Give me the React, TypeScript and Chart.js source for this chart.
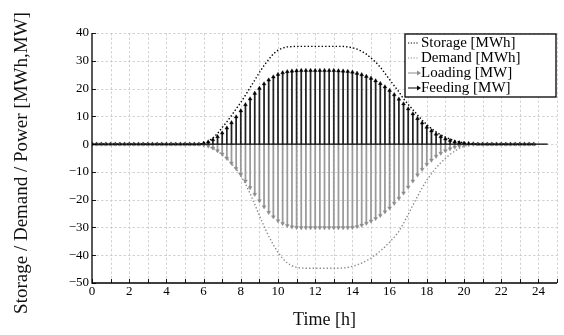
import React, { useEffect, useRef } from "react";
import { Chart, registerables } from "chart.js";

Chart.register(...registerables);

// Time axis (hours, one sample every quarter hour)
const HOURS: number[] = Array.from({ length: 96 }, (_, i) => i * 0.25);

// Storage [MWh]
const STORAGE: number[] = [
  0, 0, 0, 0, 0, 0, 0, 0, 0, 0, 0, 0,
  0, 0, 0, 0, 0, 0, 0, 0, 0, 0, 0, 0,
  0.3, 1.0, 2.2, 3.8, 6.0, 8.0, 10.3, 12.7, 15.0, 17.6, 20.3, 23.0,
  25.8, 28.3, 30.5, 32.5, 33.8, 34.6, 35.0, 35.1, 35.2, 35.2, 35.2, 35.2,
  35.2, 35.2, 35.2, 35.2, 35.2, 35.2, 35.2, 35.0, 34.7, 34.2, 33.4, 32.4,
  31.0, 29.5, 27.7, 25.5, 23.2, 21.0, 18.8, 16.3, 14.3, 12.4, 10.5, 8.6,
  7.0, 5.6, 4.4, 3.3, 2.5, 1.8, 1.2, 0.8, 0.4, 0.2, 0.1, 0,
  0, 0, 0, 0, 0, 0, 0, 0, 0, 0, 0, 0,
];

// Demand [MWh]
const DEMAND: number[] = [
  0, 0, 0, 0, 0, 0, 0, 0, 0, 0, 0, 0,
  0, 0, 0, 0, 0, 0, 0, 0, 0, 0, 0, 0,
  -0.3, -0.8, -1.5, -2.5, -3.8, -5.2, -7.0, -9.0, -11.3, -14.3, -17.8, -21.7,
  -25.7, -29.6, -33.1, -36.3, -39.0, -41.2, -42.8, -43.8, -44.4, -44.6, -44.7, -44.7,
  -44.7, -44.7, -44.7, -44.7, -44.7, -44.7, -44.6, -44.4, -44.0, -43.5, -42.8, -42.0,
  -41.0, -39.8, -38.5, -37.0, -35.3, -33.5, -31.4, -28.5, -25.3, -22.0, -18.8, -15.8,
  -13.0, -10.6, -8.5, -6.7, -5.1, -3.7, -2.5, -1.5, -0.8, -0.3, -0.1, 0,
  0, 0, 0, 0, 0, 0, 0, 0, 0, 0, 0, 0,
];

// Loading [MW]
const LOADING: number[] = [
  0, 0, 0, 0, 0, 0, 0, 0, 0, 0, 0, 0,
  0, 0, 0, 0, 0, 0, 0, 0, 0, 0, 0, 0,
  -0.3, -0.7, -1.4, -2.4, -3.6, -5.1, -6.9, -8.8, -11.0, -13.3, -15.7, -18.1,
  -20.4, -22.6, -24.6, -26.2, -27.6, -28.6, -29.3, -29.8, -30.0, -30.1, -30.1, -30.1,
  -30.1, -30.1, -30.1, -30.1, -30.1, -30.1, -30.1, -30.1, -30.0, -29.7, -29.2, -28.5,
  -27.7, -26.8, -25.7, -24.4, -23.0, -21.3, -19.5, -17.6, -15.5, -13.3, -11.1, -9.1,
  -7.3, -5.8, -4.4, -3.3, -2.4, -1.7, -1.1, -0.7, -0.4, -0.2, -0.1, 0,
  0, 0, 0, 0, 0, 0, 0, 0, 0, 0, 0, 0,
];

// Feeding [MW]
const FEEDING: number[] = [
  0, 0, 0, 0, 0, 0, 0, 0, 0, 0, 0, 0,
  0, 0, 0, 0, 0, 0, 0, 0, 0, 0, 0, 0,
  0.3, 0.8, 1.6, 2.7, 4.0, 5.8, 7.7, 9.8, 12.0, 14.2, 16.3, 18.3,
  20.1, 21.7, 23.1, 24.2, 25.1, 25.7, 26.1, 26.3, 26.4, 26.5, 26.5, 26.5,
  26.5, 26.5, 26.5, 26.5, 26.5, 26.4, 26.3, 26.2, 25.9, 25.5, 25.0, 24.4,
  23.7, 22.8, 21.8, 20.6, 19.3, 17.8, 16.2, 14.5, 12.7, 10.9, 9.2, 7.6,
  6.1, 4.8, 3.6, 2.7, 1.9, 1.3, 0.8, 0.5, 0.3, 0.2, 0.1, 0,
  0, 0, 0, 0, 0, 0, 0, 0, 0, 0, 0, 0,
];

const X_MIN = 0;
const X_MAX = 25;
const X_LABEL_STEP = 2;
const Y_MIN = -50;
const Y_MAX = 40;
const Y_STEP = 10;
const BASELINE_END = 24.5;

const LEGEND_LABELS = ["Storage [MWh]", "Demand [MWh]", "Loading [MW]", "Feeding [MW]"];
const X_TITLE = "Time [h]";
const Y_TITLE = "Storage / Demand / Power [MWh,MW]";

const FONT = "'Liberation Serif', 'Times New Roman', Times, serif";
const GRAY = "#8c8c8c";
const GRID = "#c8c8c8";

const framePlugin = {
  id: "frame",
  beforeDatasetsDraw(chart: any) {
    const { ctx, chartArea: a, scales } = chart;
    const xs = scales.x;
    const ys = scales.y;
    ctx.save();
    ctx.strokeStyle = GRID;
    ctx.lineWidth = 0.8;
    ctx.setLineDash([2.5, 2]);
    for (let h = X_MIN + 1; h <= X_MAX; h += 1) {
      const px = Math.round(xs.getPixelForValue(h)) + 0.5;
      ctx.beginPath();
      ctx.moveTo(px, a.top);
      ctx.lineTo(px, a.bottom);
      ctx.stroke();
    }
    for (let v = Y_MIN + Y_STEP; v <= Y_MAX; v += Y_STEP) {
      const py = Math.round(ys.getPixelForValue(v)) + 0.5;
      ctx.beginPath();
      ctx.moveTo(a.left, py);
      ctx.lineTo(a.right, py);
      ctx.stroke();
    }
    ctx.restore();
  },
  afterDatasetsDraw(chart: any) {
    const { ctx, chartArea: a, scales } = chart;
    const xs = scales.x;
    const ys = scales.y;
    ctx.save();
    // zero baseline of the stems
    ctx.strokeStyle = "#000";
    ctx.lineWidth = 1.2;
    ctx.setLineDash([]);
    const y0 = ys.getPixelForValue(0);
    ctx.beginPath();
    ctx.moveTo(xs.getPixelForValue(X_MIN), y0);
    ctx.lineTo(xs.getPixelForValue(BASELINE_END), y0);
    ctx.stroke();
    // axes
    ctx.lineWidth = 1.3;
    ctx.beginPath();
    ctx.moveTo(a.left, a.top);
    ctx.lineTo(a.left, a.bottom);
    ctx.lineTo(a.right, a.bottom);
    ctx.stroke();
    // inward ticks
    ctx.lineWidth = 0.9;
    for (let h = X_MIN; h <= X_MAX; h += 1) {
      const px = Math.round(xs.getPixelForValue(h)) + 0.5;
      ctx.beginPath();
      ctx.moveTo(px, a.bottom);
      ctx.lineTo(px, a.bottom - 4);
      ctx.stroke();
    }
    for (let v = Y_MIN; v <= Y_MAX; v += Y_STEP) {
      const py = Math.round(ys.getPixelForValue(v)) + 0.5;
      ctx.beginPath();
      ctx.moveTo(a.left, py);
      ctx.lineTo(a.left + 4, py);
      ctx.stroke();
    }

    // legend
    const lx = a.right - 152;
    const ly = a.top + 1;
    const lw = 151;
    const lh = 63;
    ctx.fillStyle = "#fff";
    ctx.fillRect(lx, ly, lw, lh);
    ctx.lineWidth = 1.3;
    ctx.strokeStyle = "#000";
    ctx.strokeRect(lx, ly, lw, lh);
    ctx.font = `15px ${FONT}`;
    ctx.textBaseline = "middle";
    ctx.textAlign = "left";
    const styles = [
      { color: "#000", dotted: true, marker: false },
      { color: GRAY, dotted: true, marker: false },
      { color: GRAY, dotted: false, marker: true },
      { color: "#000", dotted: false, marker: true },
    ];
    LEGEND_LABELS.forEach((label, i) => {
      const cy = ly + 9 + i * 15;
      const s = styles[i];
      ctx.strokeStyle = s.color;
      ctx.fillStyle = s.color;
      ctx.lineWidth = 1;
      ctx.setLineDash(s.dotted ? [1.2, 1.6] : []);
      ctx.beginPath();
      ctx.moveTo(lx + 3, cy);
      ctx.lineTo(lx + 14, cy);
      ctx.stroke();
      ctx.setLineDash([]);
      if (s.marker) {
        ctx.beginPath();
        ctx.moveTo(lx + 16, cy);
        ctx.lineTo(lx + 12, cy - 2.5);
        ctx.lineTo(lx + 12, cy + 2.5);
        ctx.closePath();
        ctx.fill();
      }
      ctx.fillStyle = "#000";
      ctx.fillText(label, lx + 16, cy + 0.5);
    });

    // axis titles
    ctx.fillStyle = "#111";
    ctx.font = `18px ${FONT}`;
    ctx.textAlign = "center";
    ctx.textBaseline = "middle";
    ctx.fillText(X_TITLE, (a.left + a.right) / 2, 320);
    ctx.save();
    ctx.translate(22, 163);
    ctx.rotate(-Math.PI / 2);
    ctx.font = `19px ${FONT}`;
    ctx.fillText(Y_TITLE, 0, 0);
    ctx.restore();
    ctx.restore();
  },
};

export default function App() {
  const ref = useRef<HTMLCanvasElement | null>(null);

  useEffect(() => {
    document.body.style.margin = "0";
    const canvas = ref.current;
    if (!canvas) return;
    const pts = (arr: number[]) => HOURS.map((h, i) => ({ x: h, y: arr[i] }));
    const chart = new Chart(canvas, {
      type: "bar",
      data: {
        datasets: [
          {
            type: "line",
            label: "Storage [MWh]",
            data: pts(STORAGE),
            borderColor: "#000",
            borderWidth: 1.4,
            borderDash: [1.4, 2.1],
            pointRadius: 0,
            fill: false,
            order: 1,
          } as any,
          {
            type: "line",
            label: "Demand [MWh]",
            data: pts(DEMAND),
            borderColor: GRAY,
            borderWidth: 1.4,
            borderDash: [1.4, 2.1],
            pointRadius: 0,
            fill: false,
            order: 1,
          } as any,
          {
            type: "bar",
            label: "Loading stems",
            data: pts(LOADING),
            backgroundColor: "#9a9a9a",
            barThickness: 1.1,
            grouped: false,
            order: 5,
          } as any,
          {
            type: "bar",
            label: "Feeding stems",
            data: pts(FEEDING),
            backgroundColor: "#222",
            barThickness: 1.1,
            grouped: false,
            order: 5,
          } as any,
          {
            type: "line",
            label: "Loading [MW]",
            data: pts(LOADING),
            showLine: false,
            pointStyle: "triangle",
            pointRotation: 180,
            pointRadius: 2.2,
            pointBackgroundColor: GRAY,
            pointBorderColor: GRAY,
            pointBorderWidth: 0.4,
            order: 2,
          } as any,
          {
            type: "line",
            label: "Feeding [MW]",
            data: pts(FEEDING),
            showLine: false,
            pointStyle: "triangle",
            pointRadius: 2.2,
            pointBackgroundColor: "#000",
            pointBorderColor: "#000",
            pointBorderWidth: 0.4,
            order: 2,
          } as any,
        ],
      },
      options: {
        responsive: false,
        animation: false,
        devicePixelRatio: 1,
        layout: { padding: { left: 0, top: 33, right: 7, bottom: 0 } },
        plugins: { legend: { display: false }, tooltip: { enabled: false } },
        scales: {
          x: {
            type: "linear",
            min: X_MIN,
            max: X_MAX,
            offset: false,
            grid: { display: false, drawTicks: false },
            border: { display: false },
            ticks: {
              stepSize: 1,
              autoSkip: false,
              maxRotation: 0,
              padding: 1,
              color: "#000",
              font: { family: FONT, size: 13 },
              callback: (v: any) => (Number(v) % X_LABEL_STEP === 0 ? String(v) : ""),
            },
            afterFit: (s: any) => {
              s.height = 52;
            },
          },
          y: {
            type: "linear",
            min: Y_MIN,
            max: Y_MAX,
            grid: { display: false, drawTicks: false },
            border: { display: false },
            ticks: {
              stepSize: Y_STEP,
              padding: 3,
              color: "#000",
              font: { family: FONT, size: 13 },
              callback: (v: any) => String(v).replace("-", "\u2212"),
            },
            afterFit: (s: any) => {
              s.width = 92;
            },
          },
        },
      },
      plugins: [framePlugin],
    });
    return () => chart.destroy();
  }, []);

  return (
    <div style={{ width: 564, height: 335 }}>
      <canvas ref={ref} width={564} height={335} />
    </div>
  );
}
